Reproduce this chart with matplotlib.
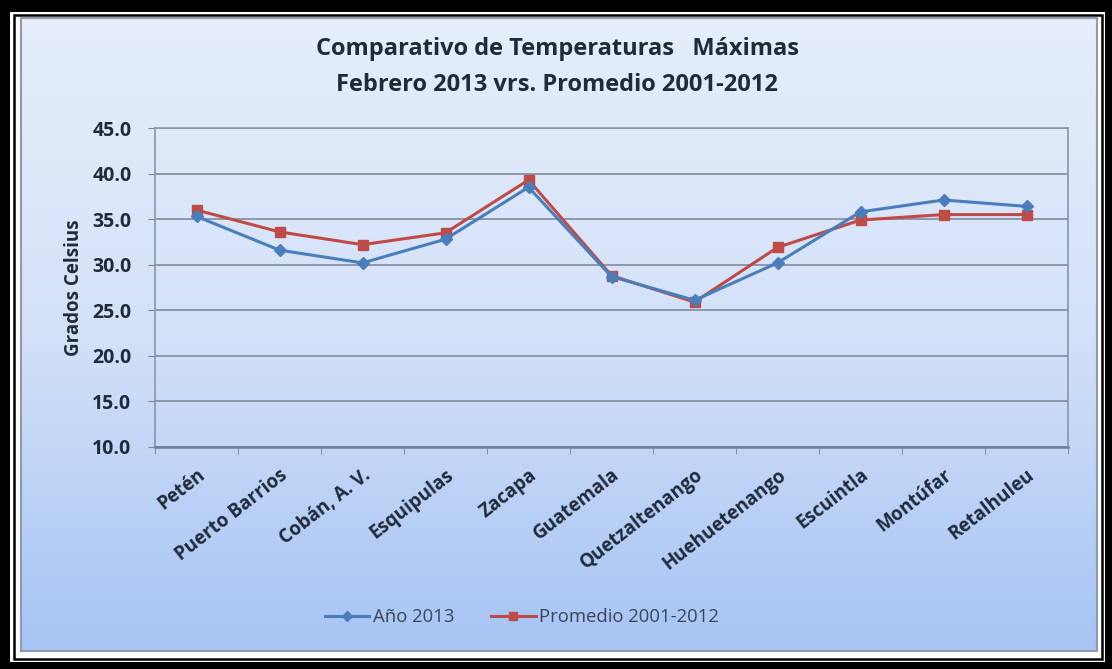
import numpy as np
import matplotlib
matplotlib.use("Agg")
import matplotlib.pyplot as plt
from matplotlib.patches import Rectangle
from matplotlib.colors import LinearSegmentedColormap

categories = ["Petén", "Puerto Barrios", "Cobán, A. V.", "Esquipulas", "Zacapa",
              "Guatemala", "Quetzaltenango", "Huehuetenango", "Escuintla",
              "Montúfar", "Retalhuleu"]
anio_2013 = [35.3, 31.6, 30.2, 32.8, 38.5, 28.7, 26.1, 30.2, 35.8, 37.1, 36.4]
promedio = [36.0, 33.6, 32.2, 33.5, 39.3, 28.8, 25.9, 31.9, 34.9, 35.5, 35.5]
yticks = [10.0, 15.0, 20.0, 25.0, 30.0, 35.0, 40.0, 45.0]

plt.rcParams['font.family'] = ['Open Sans', 'DejaVu Sans']

W, H = 1112, 669
fig = plt.figure(figsize=(W / 100, H / 100), dpi=100)
fig.patch.set_facecolor('black')

def px_rect(x0, y0, x1, y1, **kw):
    return Rectangle((x0 / W, 1 - y1 / H), (x1 - x0) / W, (y1 - y0) / H,
                     transform=fig.transFigure, **kw)

# white inner band and thin black frame
fig.patches.append(px_rect(10, 12, 1105, 662, facecolor='white', edgecolor='none', zorder=-5))
fig.patches.append(px_rect(14, 15, 1102, 659, facecolor='none', edgecolor='black', linewidth=1.8, zorder=-4))

# gradient chart area
cx0, cy0, cx1, cy1 = 21, 18, 1097, 651
bg = fig.add_axes([cx0 / W, 1 - cy1 / H, (cx1 - cx0) / W, (cy1 - cy0) / H], zorder=0)
cmap = LinearSegmentedColormap.from_list('g', ['#e6eefb', '#d3e1f8', '#a6c4f4'])
grad = np.linspace(0, 1, 256).reshape(-1, 1)
bg.imshow(grad, aspect='auto', cmap=cmap, extent=[0, 1, 0, 1], origin='upper')
bg.set_xticks([]); bg.set_yticks([])
for s in bg.spines.values():
    s.set_color('#8c9bb0'); s.set_linewidth(1.5)

# plot area
ax = fig.add_axes([155 / W, 1 - 447 / H, (1068 - 155) / W, (447 - 128) / H], zorder=2)
ax.set_facecolor('none')
x = np.arange(len(categories))
ax.plot(x, anio_2013, color='#4a7ebb', linewidth=2.2, marker='D', markersize=6,
        markerfacecolor='#4a7ebb', markeredgecolor='#4a7ebb', label='Año 2013', zorder=4)
ax.plot(x, promedio, color='#be4b48', linewidth=2.2, marker='s', markersize=7,
        markerfacecolor='#be4b48', markeredgecolor='#be4b48', label='Promedio 2001-2012', zorder=3)

ax.set_xlim(-0.5, len(categories) - 0.5)
ax.set_ylim(10, 45)
ax.set_yticks(yticks)
ax.set_yticklabels([f"{v:.1f}" for v in yticks], fontsize=14, fontweight='bold', color='#1f2a3a')
ax.yaxis.grid(True, color='#7a8394', linewidth=1.1)
ax.set_axisbelow(True)
ax.tick_params(axis='y', length=5, color='#7a8394', pad=12)

ax.set_xticks(x)
ax.set_xticklabels(categories, rotation=38, ha='right', va='top', rotation_mode='anchor',
                   fontsize=13.5, fontweight='bold', color='#1f2a3a')
ax.tick_params(axis='x', length=0, pad=13)
ax.set_xticks(np.arange(-0.5, len(categories) + 0.5, 1), minor=True)
ax.tick_params(axis='x', which='minor', length=5, color='#7a8394')

for s in ['left', 'bottom', 'right', 'top']:
    ax.spines[s].set_color('#8796ab')
    ax.spines[s].set_linewidth(1.2)
ax.spines['bottom'].set_linewidth(1.8)
ax.spines['bottom'].set_color('#6f7f96')

ax.set_ylabel('Grados Celsius', fontsize=13.5, fontweight='bold', color='#1f2a3a', labelpad=6)

fig.text(557 / W, 1 - 49 / H, 'Comparativo de Temperaturas   Máximas', ha='center', va='center',
         fontsize=17, fontweight='bold', color='#1f2a3a')
fig.text(557 / W, 1 - 85 / H, 'Febrero 2013 vrs. Promedio 2001-2012', ha='center', va='center',
         fontsize=17, fontweight='bold', color='#1f2a3a')

leg = fig.legend(loc='center', bbox_to_anchor=(522 / W, 1 - 617 / H), ncol=2, frameon=False,
                 fontsize=13.3, handlelength=2.4, handletextpad=0.2, columnspacing=2.0,
                 labelcolor='#3a4656', markerscale=0.8)

fig.savefig('out.png', dpi=100, facecolor=fig.get_facecolor())
